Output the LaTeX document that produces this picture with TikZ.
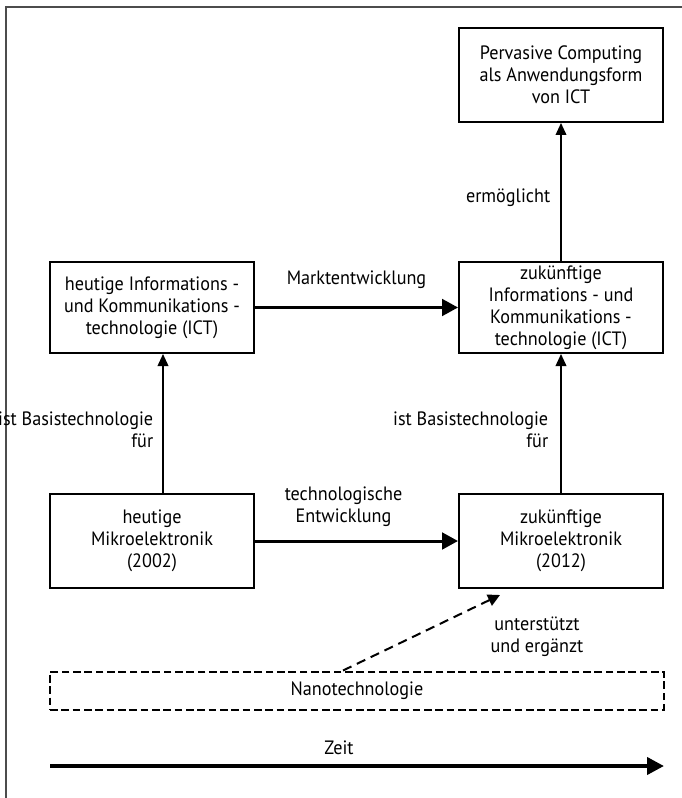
\documentclass[tikz,border=0pt]{standalone}
\usepackage{fontspec}
\setmainfont{PT Sans}[FakeStretch=0.94]
\usetikzlibrary{arrows.meta}

\begin{document}
\begin{tikzpicture}[x=0.75pt,y=-0.75pt,font=\fontsize{14.5}{16.5}\selectfont,
box/.style={draw,line width=1.5pt,minimum width=153pt,minimum height=#1,align=center,inner sep=0pt},box/.default=70.5pt,
nbox/.style={draw,line width=1.5pt,dash pattern=on 5.75pt off 2.75pt,minimum width=460.5pt,minimum height=28.5pt,inner sep=0pt},
lbl/.style={inner sep=0pt,align=center},
arr/.style={line width=1.2pt,-{Triangle[length=9pt,width=8pt]}},
harr/.style={line width=2.25pt,-{Triangle[length=12pt,width=12.5pt]}},
darr/.style={line width=1.5pt,dash pattern=on 7pt off 4.5pt,-{Triangle[length=9pt,width=9pt]}},
tarr/.style={line width=3pt,-{Triangle[length=12.75pt,width=12.75pt]}}]
\useasboundingbox (0,0) rectangle (681,798);
% frame
\draw[line width=1.2pt,black!70] (6,810) |- (690,7);
% boxes
\node[box] (pc) at (561,75) {Pervasive Computing\\als Anwendungsform\\von ICT};
\node[box=68.25pt] (ictnow) at (152,307.5) {heutige Informations -\\und Kommunikations -\\technologie (ICT)};
\node[box=68.25pt] (ictfut) at (561,307.5) {zukünftige\\Informations - und\\Kommunikations -\\technologie (ICT)};
\node[box] (mnow) at (152,541) {heutige\\Mikroelektronik\\(2002)};
\node[box] (mfut) at (561,541) {zukünftige\\Mikroelektronik\\(2012)};
\node[nbox] (nano) at (357,690.5) {Nanotechnologie};
\coordinate (t0) at (50,766);
\coordinate (t1) at (664,766);
% arrows
\draw[arr] (ictfut) -- (pc) node[lbl,pos=0.46,left=7.5pt] {ermöglicht};
\draw[harr] (ictnow) -- (ictfut) node[lbl,midway,yshift=21pt] {Marktentwicklung};
\draw[harr] (mnow) -- (mfut) node[lbl,midway,xshift=-9.75pt,yshift=26pt] {technologische\\Entwicklung};
\foreach \a/\b/\s/\d in %
{mnow/ictnow/8.25pt/6.75pt,mfut/ictfut/0pt/9pt} {
   \draw[arr] ([xshift=\s]\a.north) -- ([xshift=\s]\b.south)
      node[lbl,align=right,pos=0.457,left=\d] {ist Basistechnologie\\für};
}
\draw[darr] ([xshift=-10.5pt]nano.north) -- ([xshift=-45.75pt,yshift=-4.5pt]mfut.south);
\node[lbl] (sup) at (537,637) {unterstützt\\und ergänzt};
\draw[tarr] (t0) -- (t1) node[lbl,midway,xshift=-13.5pt,yshift=13.5pt] {Zeit};
\end{tikzpicture}
\end{document}
